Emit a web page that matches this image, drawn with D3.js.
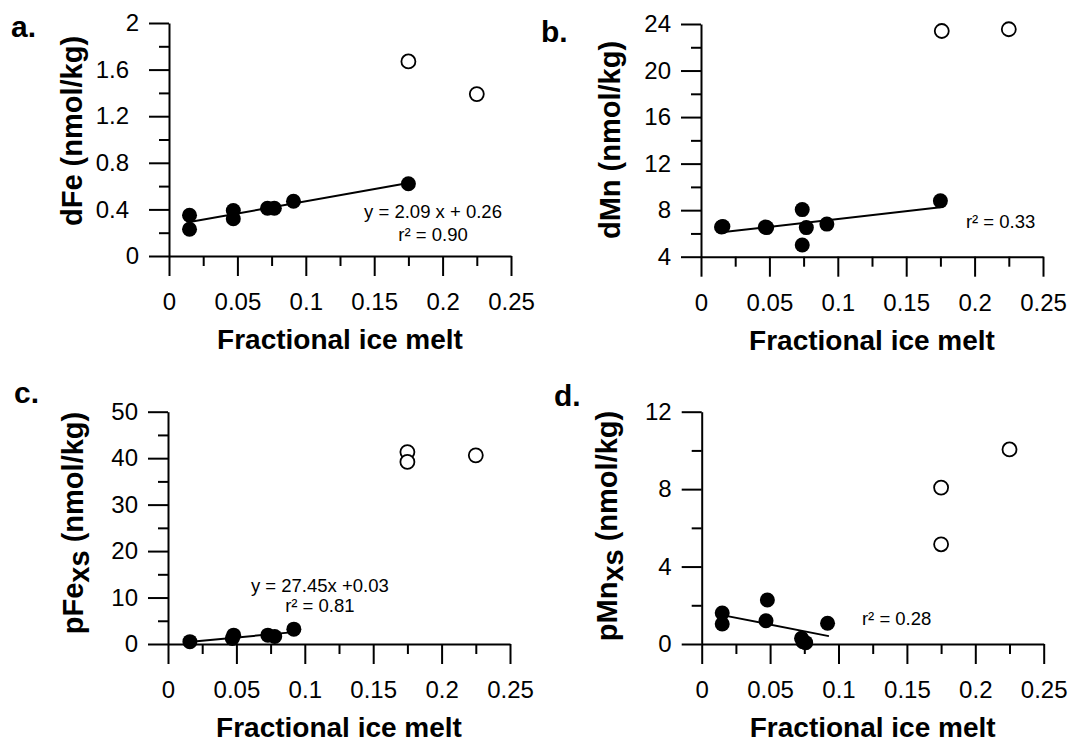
<!DOCTYPE html>
<html>
<head>
<meta charset="utf-8">
<script src="https://cdnjs.cloudflare.com/ajax/libs/d3/7.8.5/d3.min.js"></script>
<style>
body { margin: 0; background: #fff; }
text { font-family: "Liberation Sans", Arial, sans-serif; fill: #000; }
</style>
</head>
<body>
<div id="chart"></div>
<script>
var WIDTH = 1070, HEIGHT = 746;
var AXIS_W = 2;

// x is fractional ice melt for every panel
var meltTicks = [0, 0.05, 0.1, 0.15, 0.2, 0.25];
var meltMinor = [0.025, 0.075, 0.125, 0.175, 0.225];

// a. dFe
var dFeX = [0.015, 0.015, 0.047, 0.047, 0.072, 0.077, 0.091, 0.175];
var dFeY = [0.35, 0.23, 0.39, 0.32, 0.41, 0.41, 0.47, 0.62];
var dFeOpenX = [0.175, 0.225];
var dFeOpenY = [1.67, 1.39];
var dFeTicks = [0, 0.4, 0.8, 1.2, 1.6, 2];

// b. dMn
var dMnX = [0.015, 0.016, 0.047, 0.048, 0.074, 0.077, 0.074, 0.092, 0.175];
var dMnY = [6.55, 6.6, 6.55, 6.5, 8.05, 6.5, 5.0, 6.8, 8.8];
var dMnOpenX = [0.176, 0.225];
var dMnOpenY = [23.4, 23.55];
var dMnTicks = [4, 8, 12, 16, 20, 24];

// c. pFe xs
var pFeX = [0.016, 0.047, 0.048, 0.073, 0.078, 0.092];
var pFeY = [0.5, 1.2, 1.9, 1.9, 1.6, 3.2];
var pFeOpenX = [0.175, 0.175, 0.225];
var pFeOpenY = [41.3, 39.2, 40.6];
var pFeTicks = [0, 10, 20, 30, 40, 50];

// d. pMn xs
var pMnX = [0.015, 0.015, 0.048, 0.047, 0.073, 0.076, 0.074, 0.092];
var pMnY = [1.6, 1.03, 2.27, 1.2, 0.3, 0.07, 0.12, 1.07];
var pMnOpenX = [0.175, 0.175, 0.225];
var pMnOpenY = [8.08, 5.15, 10.05];
var pMnTicks = [0, 4, 8, 12];

// regression fits shown on the figure: [slope, intercept, xStart, xEnd]
var dFeFit = [2.09, 0.26, 0.015, 0.175];
var dMnFit = [13.4, 5.90, 0.015, 0.175];
var pFeFit = [27.45, 0.03, 0.015, 0.092];
var pMnFit = [-13.9, 1.70, 0.015, 0.093];

var panels = [
    {letter: "a.", title: ["dFe", "", " (nmol/kg)"], x0: 169, yTop: 23, yBot: 256,
     xs: dFeX, ys: dFeY, ox: dFeOpenX, oy: dFeOpenY, ticks: dFeTicks, fit: dFeFit,
     letterPos: [11, 37], titleX: 82, titleY: 131, decShift: -10,
     notes: [{t: "y = 2.09 x + 0.26", x: 0.193, y: 0.327}, {t: "r\u00b2 = 0.90", x: 0.193, y: 0.125}]},
    {letter: "b.", title: ["dMn", "", " (nmol/kg)"], x0: 701, yTop: 24, yBot: 256.7,
     xs: dMnX, ys: dMnY, ox: dMnOpenX, oy: dMnOpenY, ticks: dMnTicks, fit: dMnFit,
     letterPos: [541, 42], titleX: 620, titleY: 140, decShift: 0,
     notes: [{t: "r\u00b2 = 0.33", x: 0.219, y: 6.47}]},
    {letter: "c.", title: ["pFe", "xs", " (nmol/kg)"], x0: 168, yTop: 411.7, yBot: 644,
     xs: pFeX, ys: pFeY, ox: pFeOpenX, oy: pFeOpenY, ticks: pFeTicks, fit: pFeFit,
     letterPos: [14, 403], titleX: 83, titleY: 523, decShift: 0,
     notes: [{t: "y = 27.45x +0.03", x: 0.111, y: 11.2}, {t: "r\u00b2 = 0.81", x: 0.111, y: 6.95}]},
    {letter: "d.", title: ["pMn", "xs", " (nmol/kg)"], x0: 701.7, yTop: 411.7, yBot: 644,
     xs: pMnX, ys: pMnY, ox: pMnOpenX, oy: pMnOpenY, ticks: pMnTicks, fit: pMnFit,
     letterPos: [554, 406], titleX: 617, titleY: 526, decShift: 0,
     notes: [{t: "r\u00b2 = 0.28", x: 0.1425, y: 0.98}]}
];

var svg = d3.select("#chart").append("svg")
    .attr("width", WIDTH)
    .attr("height", HEIGHT);

panels.forEach(function(p) {
    var x = d3.scaleLinear().domain([0, 0.25]).range([p.x0, p.x0 + 342]);
    var yDom = d3.extent(p.ticks);
    var y = d3.scaleLinear().domain(yDom).range([p.yBot, p.yTop]);
    var yMinor = d3.pairs(p.ticks).map(function(d) { return (d[0] + d[1]) / 2; });

    var g = svg.append("g");

    // x axis, major + minor
    g.append("g").attr("transform", "translate(0," + p.yBot + ")")
        .call(d3.axisBottom(x).tickValues(meltTicks).tickSize(20).tickSizeOuter(0)
              .tickPadding(17).tickFormat(function(d) { return String(d); }));
    g.append("g").attr("transform", "translate(0," + p.yBot + ")")
        .call(d3.axisBottom(x).tickValues(meltMinor).tickSize(10).tickSizeOuter(0).tickFormat(""))
        .select(".domain").remove();

    // y axis, major + minor
    var ya = g.append("g").attr("transform", "translate(" + p.x0 + ",0)")
        .call(d3.axisLeft(y).tickValues(p.ticks).tickSize(20).tickSizeOuter(0)
              .tickPadding(10).tickFormat(function(d) { return String(d); }));
    g.append("g").attr("transform", "translate(" + p.x0 + ",0)")
        .call(d3.axisLeft(y).tickValues(yMinor).tickSize(10).tickSizeOuter(0).tickFormat(""))
        .select(".domain").remove();

    g.selectAll(".domain, .tick line").attr("stroke", "#000").attr("stroke-width", AXIS_W);
    g.selectAll(".tick text").attr("font-size", 24).attr("font-family", '"Liberation Sans", Arial, sans-serif');
    // decimal labels sit a little further left than whole numbers in panel a
    if (p.decShift) {
        ya.selectAll(".tick text").attr("dx", function(d) {
            return String(d).indexOf(".") < 0 ? 0 : p.decShift;
        });
    }

    // x title
    g.append("text")
        .attr("x", p.x0 + 171).attr("y", p.yBot + 93)
        .attr("text-anchor", "middle")
        .attr("font-size", 28).attr("font-weight", "bold")
        .text("Fractional ice melt");

    // y title (with subscript)
    var yt = g.append("text")
        .attr("transform", "translate(" + p.titleX + "," + p.titleY + ") rotate(-90)")
        .attr("text-anchor", "middle")
        .attr("font-size", 29).attr("font-weight", "bold");
    yt.append("tspan").text(p.title[0]);
    if (p.title[1]) {
        yt.append("tspan").attr("dy", 6).text(p.title[1]);
        yt.append("tspan").attr("dy", -6).text(p.title[2]);
    } else {
        yt.append("tspan").text(p.title[2]);
    }

    // panel letter
    g.append("text")
        .attr("x", p.letterPos[0]).attr("y", p.letterPos[1])
        .attr("font-size", 30).attr("font-weight", "bold")
        .text(p.letter);

    // regression line
    var f = p.fit;
    g.append("line")
        .attr("x1", x(f[2])).attr("y1", y(f[0] * f[2] + f[1]))
        .attr("x2", x(f[3])).attr("y2", y(f[0] * f[3] + f[1]))
        .attr("stroke", "#000").attr("stroke-width", 2);

    // filled points
    g.selectAll(".dot").data(p.xs.map(function(d, i) { return [d, p.ys[i]]; }))
        .enter().append("circle")
        .attr("cx", function(d) { return x(d[0]); })
        .attr("cy", function(d) { return y(d[1]); })
        .attr("r", 7.5)
        .attr("fill", "#000");

    // open points (excluded from fit)
    g.selectAll(".open").data(p.ox.map(function(d, i) { return [d, p.oy[i]]; }))
        .enter().append("circle")
        .attr("cx", function(d) { return x(d[0]); })
        .attr("cy", function(d) { return y(d[1]); })
        .attr("r", 7)
        .attr("fill", "#fff")
        .attr("stroke", "#000").attr("stroke-width", 1.8);

    // fit annotations
    p.notes.forEach(function(n) {
        g.append("text")
            .attr("x", x(n.x)).attr("y", y(n.y))
            .attr("text-anchor", "middle")
            .attr("font-size", 18.5)
            .text(n.t);
    });
});
</script>
</body>
</html>
